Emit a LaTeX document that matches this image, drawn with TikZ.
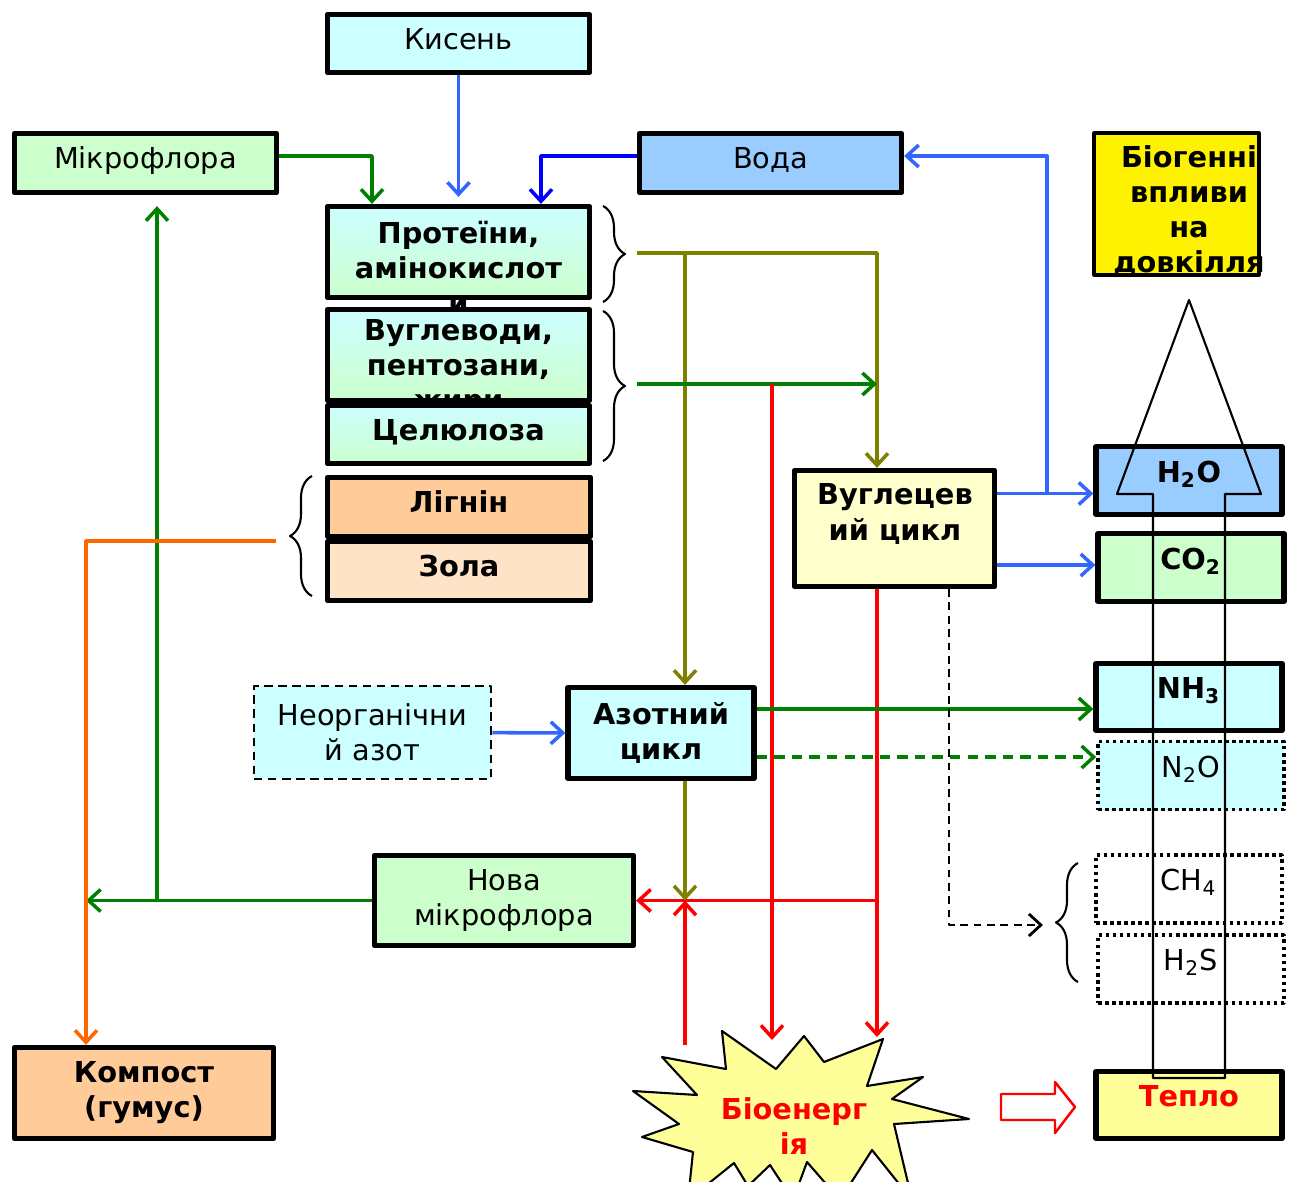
\documentclass[tikz,border=0pt]{standalone}
\usepackage{fontspec}
\setmainfont{DejaVu Sans}
\usetikzlibrary{arrows.meta,decorations.pathreplacing}
\newcommand{\fsz}{\fontsize{8.2}{10}\selectfont}
\definecolor{lnBlue}{HTML}{3366FF}
\definecolor{lnDBlue}{HTML}{0000FF}
\definecolor{lnGreen}{HTML}{008000}
\definecolor{lnOlive}{HTML}{808000}
\definecolor{lnRed}{HTML}{FF0000}
\definecolor{lnOrange}{HTML}{FF6600}
\definecolor{fCyan}{HTML}{CCFFFF}
\definecolor{fGreen}{HTML}{CCFFCC}
\definecolor{fBlue}{HTML}{99CCFF}
\definecolor{fOrange}{HTML}{FFCC99}
\definecolor{fPeach}{HTML}{FFE3C7}
\definecolor{fLYellow}{HTML}{FFFFCC}
\definecolor{fYellow}{HTML}{FFFF99}
\begin{document}
\begin{tikzpicture}[x=0.1mm,y=-0.1mm,>={Straight Barb[length=1.2mm,width=2.2mm]},line join=round,
		every node/.style={font=\fsz,align=center,inner sep=0pt},
		blk/.style={draw,line width=1.5pt},
		one/.style={text height=2.1mm,text depth=1mm},
		gas/.style={blk,minimum width=18.6mm,minimum height=6.8mm,text height=2.1mm,text depth=1.8mm},
		dotgas/.style={gas,line width=1pt,dash pattern=on 1pt off 1pt},
		wide/.style={minimum width=26.2mm},
		bft/.style={font=\fsz\bfseries},
		ln/.style={line width=1pt,->},
		brc/.style={decorate,decoration={brace,amplitude=2.2mm},line width=0.6pt}]
	\useasboundingbox (0,0) rectangle (1300,1182);
	% ліва частина
	\node[blk,one,wide,fill=fCyan,minimum height=5.8mm] (kys) at (458.5,43.5) {Кисень};
	\node[blk,one,wide,fill=fGreen,minimum height=5.9mm] (mikro) at (145.5,163) {Мікрофлора};
	\node[blk,one,wide,fill=fBlue,minimum height=5.9mm] (voda) at (770.5,163) {Вода};
	\node[blk,wide,top color=fCyan,bottom color=fGreen,minimum height=9.1mm] (prot) at (458.5,252) {};
	\node[bft] (protT) at (458.5,267) {Протеїни,\\амінокислот\\и};
	\node[blk,wide,top color=fCyan,bottom color=fGreen,minimum height=9.1mm] (vugl) at (458.5,355) {};
	\node[bft] (vuglT) at (458.5,368) {Вуглеводи,\\пентозани,\\жири};
	\node[blk,one,bft,wide,top color=fCyan,bottom color=fGreen,minimum height=5.8mm] (cel) at (458.5,434.5) {Целюлоза};
	\node[blk,one,bft,minimum width=26.3mm,minimum height=5.9mm,fill=fOrange] (lign) at (459,507) {Лігнін};
	\node[blk,one,bft,minimum width=26.3mm,minimum height=5.9mm,fill=fPeach] (zola) at (459,571) {Зола};
	\node[blk,minimum width=20mm,minimum height=11.6mm,fill=fLYellow] (vcykl) at (894.5,528.5) {};
	\node[bft] (vcyklT) at (895,514) {Вуглецев\\ий цикл};
	\node[blk,line width=0.9pt,minimum width=16.5mm,minimum height=14.2mm,fill=yellow] (biog) at (1176.5,204) {};
	\node[bft] (biogT) at (1189,211) {Біогенні\\впливи\\на\\довкілля};
	% гази
	\node[gas,bft,fill=fBlue] (h2o) at (1189,480.5) {H\textsubscript{2}O};
	\node[gas,bft,fill=fGreen] (co2) at (1191,567.5) {CO\textsubscript{2}};
	\node[gas,bft,fill=fCyan,minimum height=6.7mm] (nh3) at (1189,697) {NH\textsubscript{3}};
	\node[dotgas,fill=fCyan,minimum height=6.8mm] (n2o) at (1191,775.5) {N\textsubscript{2}O};
	\node[dotgas] (ch4) at (1189,889) {CH\textsubscript{4}};
	\node[dotgas] (h2s) at (1191,969) {H\textsubscript{2}S};
	\node[gas,bft,text=lnRed,fill=fYellow,minimum height=6.7mm] (teplo) at (1189,1105) {Тепло};
	\node[blk,line width=0.8pt,dash pattern=on 2.4pt off 1.6pt,fill=fCyan,minimum width=23.7mm,minimum height=9.3mm] (neorg) at (372.5,732.5) {Неорганічни\\й азот};
	\node[blk,bft,fill=fCyan,minimum width=18.6mm,minimum height=9.1mm] (azot) at (661,733) {Азотний\\цикл};
	\node[blk,fill=fGreen,minimum width=25.9mm,minimum height=9mm] (nova) at (504,900.5) {Нова\\мікрофлора};
	\node[blk,bft,fill=fOrange,minimum width=25.9mm,minimum height=9.1mm] (komp) at (144,1093) {Компост\\(гумус)};
	% вибух
	\draw[fill=fYellow,line width=0.6pt] (722,1031) -- (776,1069) -- (804,1036) -- (824,1062) -- (883,1039) -- (867,1086) -- (923,1077) -- (892,1099) -- (969,1119) -- (894,1124) -- (912,1200) -- (872,1150) -- (840,1200) -- (807,1162) -- (793,1200) -- (770,1165) -- (748,1186) -- (734,1163) -- (688,1200) -- (693,1152) -- (642,1137) -- (679,1124) -- (633,1091) -- (697,1095) -- (662,1057) -- (726,1069) -- cycle;
	\node[bft,text=lnRed] (bio) at (794,1126) {Біоенерг\\ія};
	\draw[lnRed,line width=0.7pt,fill=white] (1001,1094) -- (1055,1094) -- (1055,1082) -- (1075,1107) -- (1055,1133) -- (1055,1120) -- (1001,1120) -- cycle;
	% дужки
	\draw[brc] (603,206) -- (603,302);
	\draw[brc] (603,311) -- (603,461);
	\draw[brc] (312,596) -- (312,476);
	\draw[brc] (1078,982) -- (1078,863);
	% точки
	\coordinate (bp) at (637,253);
	\coordinate (bc) at (637,384);
	\coordinate (lb) at (276,541);
	\coordinate (rb) at (685,1045);
	\coordinate (r1) at (772,1040);
	\coordinate (r2) at (877,1037);
	\coordinate (bt) at (1043,925);
	\coordinate (vin) at ([xshift=-1.75mm]vcykl.north);
	\coordinate (vd) at ([xshift=5.45mm]vcykl.south);
	\coordinate (hb) at ([yshift=3.5mm]vcykl.east);
	\coordinate (cb) at ([yshift=-3.65mm]vcykl.east);
	\coordinate (junc) at ([xshift=5mm]hb);
	\coordinate (nx) at ([xshift=2.4mm]azot.north);
	\coordinate (ny) at ([yshift=2.4mm]azot.east);
	\coordinate (nz) at ([yshift=-2.4mm]azot.east);
	\coordinate (kn) at ([xshift=-5.8mm]komp.north);
	\coordinate (mx) at ([xshift=1.15mm,yshift=-1.1mm]mikro.south);
	% стрілки
	\draw[ln,lnBlue] (kys) -- ([yshift=0.7mm]prot.north);
	\draw[ln,lnGreen] ([yshift=0.7mm]mikro.east) -| ([xshift=-8.65mm]prot.north);
	\draw[ln,lnDBlue] ([yshift=0.7mm]voda.west) -| ([xshift=8.25mm]prot.north);
	\draw[ln,lnBlue] (hb) -- (hb -| h2o.west);
	\draw[ln,lnBlue] (junc) |- ([yshift=0.7mm]voda.east);
	\draw[ln,lnBlue] (cb) -- (cb -| co2.west);
	\draw[ln,lnOlive] (bp) -| (vin);
	\draw[ln,lnOlive] (bp -| nx) -- (nx);
	\draw[ln,lnGreen] (bc) -- (bc -| vin);
	\draw[ln,lnRed] (bc -| r1) -- (r1);
	\draw[ln,lnRed] (vcykl.south -| r2) -- (r2);
	\draw[ln,lnRed] (r2 |- nova.east) -- (nova.east);
	\draw[ln,lnRed] (rb) -- (rb |- nova.east);
	\draw[ln,lnOlive] (azot.south -| nx) -- (nx |- nova.east);
	\draw[ln,lnGreen] (ny) -- (ny -| nh3.west);
	\draw[ln,lnGreen,dash pattern=on 3pt off 2pt] (nz) -- (nz -| n2o.west);
	\draw[ln,line width=0.8pt,dash pattern=on 2.2pt off 1.6pt] (vd) |- (bt);
	\draw[ln,lnBlue] (neorg) -- (azot);
	\draw[ln,lnGreen] (nova.west) -- (nova.west -| kn);
	\draw[ln,lnGreen] (nova.west -| mx) -- (mx);
	\draw[ln,lnOrange] (lb) -| (kn);
	% контур
	\draw[line width=0.6pt] (1189,300) -- (1261,494) -- (1225,494) -- (1225,1078) -- (1153,1078) -- (1153,494) -- (1117,494) -- cycle;
\end{tikzpicture}
\end{document}
